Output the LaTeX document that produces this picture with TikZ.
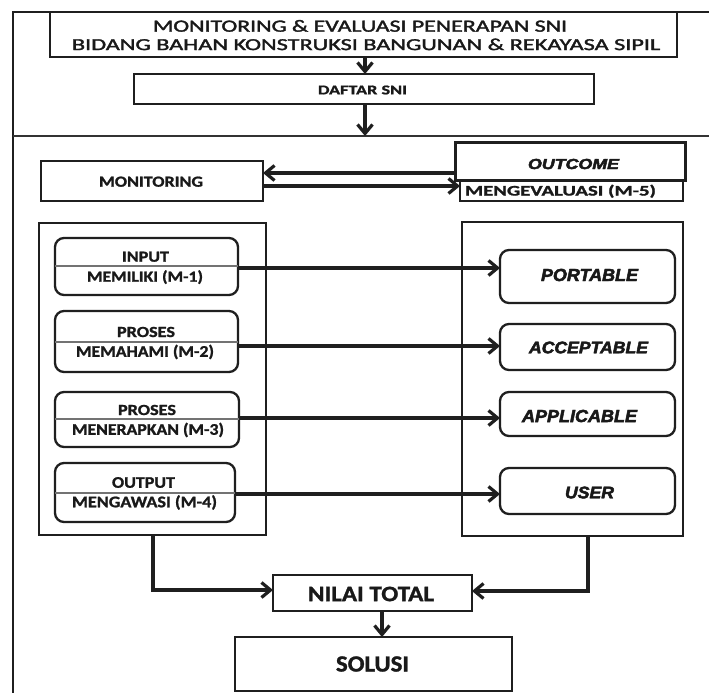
\documentclass[tikz,border=0pt]{standalone}
\usepackage{fontspec}
\usepackage{graphicx}
\setmainfont{Carlito}[BoldFeatures={FakeBold=1.2}]
\newfontface\titlefont[FakeBold=1.7]{Carlito}
\newfontface\heavyit[FakeBold=2.8]{Liberation Sans Bold Italic}
\usetikzlibrary{arrows.meta}
\newcommand\fitt[3]{\resizebox{#1pt}{#2pt}{\raisebox{0pt}[\fontcharht\font`H][0pt]{#3}}}
\begin{document}
\begin{tikzpicture}[x=1pt,y=-1pt,
  box/.style={draw=black!88, line width=2.1pt, inner sep=0pt, outer sep=0pt},
  rbox/.style={box, rounded corners=9pt, line width=2.3pt},
  tx/.style={inner sep=0pt, outer sep=0pt, text=black!90},
  txr/.style={tx, font=\titlefont},
  txb/.style={tx, font=\bfseries},
  txi/.style={tx, font=\heavyit},
  arr/.style={draw=black!88, line width=3.2pt, -{Straight Barb[length=9pt,width=15pt]}},
  divl/.style={draw=black!55, line width=1.1pt}]

\useasboundingbox (0,0) rectangle (709,693);
\fill[white] (0,0) rectangle (709,693);

% frame
\coordinate (fTR) at (709,12);
\coordinate (fTL) at (13,12);
\coordinate (fBL) at (13,693);
\draw[line width=2pt, black!88] (fTR) -- (fTL) -- (fBL);
\coordinate (fML) at (13,136);
\coordinate (fMR) at (709,136);
\draw[line width=2.4pt, black!80] (fML) -- (fMR);

% title
\node[box, minimum width=627pt, minimum height=45pt] (title) at (363.5,34.5) {};
\node[txr] (t1) at (360,26.2) {\fitt{414}{11}{MONITORING \& EVALUASI PENERAPAN SNI}};
\node[txr] (t2) at (366,44.7) {\fitt{588}{10.8}{BIDANG BAHAN KONSTRUKSI BANGUNAN \& REKAYASA SIPIL}};

% daftar
\node[box, line width=2.4pt, minimum width=460pt, minimum height=30pt] (daftar) at (364,89) {};
\node[txb] (td) at (362.5,90) {\fitt{89}{8.7}{DAFTAR SNI}};

\coordinate (ax) at (365,0);
\draw[arr] (title.south -| ax) -- (daftar.north -| ax);
\draw[arr] (daftar.south -| ax) -- (fML -| ax);

% monitoring / outcome
\node[box, line width=2.4pt, minimum width=222pt, minimum height=40pt] (mon) at (152,181) {};
\node[txb] (tmon) at (151,181.7) {\fitt{104}{10}{MONITORING}};
\node[box, line width=2.4pt, minimum width=223pt, minimum height=21pt] (meng) at (571.5,190.5) {};
\node[txb] (tmeng) at (560.5,190.8) {\fitt{191}{9.5}{MENGEVALUASI (M-5)}};
\node[box, line width=3pt, fill=white, minimum width=230pt, minimum height=38pt] (outc) at (570,161) {};
\node[txi] (toutc) at (573.5,164) {\fitt{91}{10}{OUTCOME}};

\coordinate (ya) at (0,173);
\coordinate (yb) at (0,186);
\draw[arr] (outc.west |- ya) -- (mon.east |- ya);
\draw[arr] (mon.east |- yb) -- (meng.west |- yb);

% big boxes
\node[box, minimum width=227pt, minimum height=312pt] (L) at (152.5,379) {};
\node[box, minimum width=221pt, minimum height=314pt] (R) at (572.5,379) {};

% left rounded boxes
\node[rbox, minimum width=183pt, minimum height=57pt] (b1) at (146.5,266.5) {};
\node[rbox, minimum width=183pt, minimum height=61pt] (b2) at (146.5,341.5) {};
\node[rbox, minimum width=184pt, minimum height=55pt] (b3) at (147,419.5) {};
\node[rbox, minimum width=180pt, minimum height=59pt] (b4) at (145,492.5) {};
\coordinate (d1) at (0,266);
\coordinate (d2) at (0,342);
\coordinate (d3) at (0,419);
\coordinate (d4) at (0,493);
\draw[divl] (b1.west |- d1) -- (b1.east |- d1);
\draw[divl] (b2.west |- d2) -- (b2.east |- d2);
\draw[divl] (b3.west |- d3) -- (b3.east |- d3);
\draw[divl] (b4.west |- d4) -- (b4.east |- d4);
\node[txb] (tb1a) at (145.5,256.7) {\fitt{47}{10}{INPUT}};
\node[txb] (tb1b) at (145,276.7) {\fitt{116}{10}{MEMILIKI (M-1)}};
\node[txb] (tb2a) at (146,332) {\fitt{58}{10}{PROSES}};
\node[txb] (tb2b) at (145,351.5) {\fitt{138}{10.5}{MEMAHAMI (M-2)}};
\node[txb] (tb3a) at (147,410) {\fitt{58}{10}{PROSES}};
\node[txb] (tb3b) at (148,429.5) {\fitt{152}{10.5}{MENERAPKAN (M-3)}};
\node[txb] (tb4a) at (143.5,482.5) {\fitt{63}{10.5}{OUTPUT}};
\node[txb] (tb4b) at (144.5,502) {\fitt{145}{10.5}{MENGAWASI (M-4)}};

% right rounded boxes
\node[rbox, minimum width=175pt, minimum height=53pt] (p1) at (587.5,276.5) {};
\node[rbox, minimum width=175pt, minimum height=46pt] (p2) at (587.5,347) {};
\node[rbox, minimum width=175pt, minimum height=44pt] (p3) at (587.5,414) {};
\node[rbox, minimum width=175pt, minimum height=46pt] (p4) at (587.5,491) {};
\node[txi] (tp1) at (589.5,275) {\fitt{97}{12}{PORTABLE}};
\node[txi] (tp2) at (588.5,347.5) {\fitt{119}{11.5}{ACCEPTABLE}};
\node[txi] (tp3) at (579.5,416) {\fitt{115}{12}{APPLICABLE}};
\node[txi] (tp4) at (589.5,492.5) {\fitt{49}{11.5}{USER}};

% horizontal arrows
\coordinate (y1) at (0,268);
\coordinate (y2) at (0,346);
\coordinate (y3) at (0,418);
\coordinate (y4) at (0,494);
\draw[arr] (b1.east |- y1) -- (p1.west |- y1);
\draw[arr] (b2.east |- y2) -- (p2.west |- y2);
\draw[arr] (b3.east |- y3) -- (p3.west |- y3);
\draw[arr] (b4.east |- y4) -- (p4.west |- y4);

% bottom
\node[box, line width=2.4pt, minimum width=199pt, minimum height=36pt] (nilai) at (372.5,593) {};
\node[txb] (tn) at (371,594) {\fitt{126}{14.3}{NILAI TOTAL}};
\node[box, line width=2.4pt, minimum width=277pt, minimum height=54pt] (solusi) at (373.5,664) {};
\node[txb] (ts) at (372.5,664) {\fitt{73}{15}{SOLUSI}};

\coordinate (cl) at (153,590);
\coordinate (cr) at (588,591);
\draw[arr] (L.south -| cl) |- (nilai.west |- cl);
\draw[arr] (R.south -| cr) |- (nilai.east |- cr);
\coordinate (sx) at (382,0);
\draw[arr] (nilai.south -| sx) -- (solusi.north -| sx);
\end{tikzpicture}
\end{document}
